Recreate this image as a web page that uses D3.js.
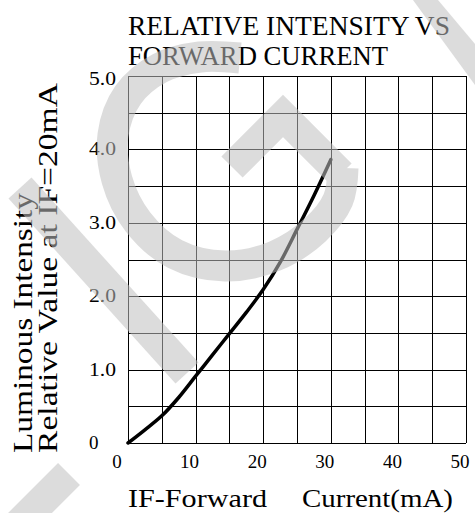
<!DOCTYPE html>
<html>
<head>
<meta charset="utf-8">
<script src="https://cdn.jsdelivr.net/npm/d3@7"></script>
<style>
  body { margin: 0; background: #fff; }
  svg { display: block; }
  text { font-family: "Liberation Serif", "DejaVu Serif", serif; fill: #000; }
</style>
</head>
<body>
<svg width="475" height="513"></svg>
<script>
//Curve: forward current (mA) vs relative intensity
let currents = [0, 2.5, 5, 7.5, 10, 12.5, 15, 17.5, 20, 22.5, 25, 27.5, 30];
let intensities = [0, 0.18, 0.37, 0.62, 0.91, 1.2, 1.49, 1.78, 2.09, 2.46, 2.91, 3.37, 3.86];
//Axis labels and grid steps
let xTicks = [0, 10, 20, 30, 40, 50];
let yTicks = [0, 1, 2, 3, 4, 5];
let yTickLabels = ["0", "1.0", "2.0", "3.0", "4.0", "5.0"];
let xGrid = d3.range(0, 51, 5);
let yGrid = d3.range(0, 5.01, 0.5);
//Texts
let titleLines = ["RELATIVE INTENSITY VS", "FORWARD CURRENT"];
let yTitleLines = ["Luminous Intensity", "Relative Value at IF=20mA"];
let xTitleWords = ["IF-Forward", "Current(mA)"];

let svg = d3.select("svg"),
    margin = {top: 76, right: 9, bottom: 70, left: 128},
    width = +svg.attr("width") - margin.left - margin.right,
    height = +svg.attr("height") - margin.top - margin.bottom;

let x = d3.scaleLinear().domain([0, 50]).range([0, width]),
    y = d3.scaleLinear().domain([0, 5]).range([height, 0]);

let plot = svg.append("g")
    .attr("transform", "translate(" + margin.left + "," + margin.top + ")");

//Grid: vertical lines every 5 mA, horizontal every 0.5
plot.append("g")
    .attr("transform", "translate(0," + height + ")")
    .call(d3.axisBottom(x).tickValues(xGrid).tickSize(height).tickFormat(""))
    .call(g => g.select(".domain").remove())
    .call(g => g.selectAll("line").attr("transform", "translate(0," + (-height) + ")"));

plot.append("g")
    .call(d3.axisLeft(y).tickValues(yGrid).tickSize(-width).tickFormat(""))
    .call(g => g.select(".domain").remove());

plot.selectAll(".tick line")
    .attr("stroke", "#000")
    .attr("stroke-width", 1)
    .attr("shape-rendering", "crispEdges");

//The curve itself
let line = d3.line()
    .x((d, i) => x(currents[i]))
    .y(d => y(d))
    .curve(d3.curveCatmullRom);

plot.append("path")
    .datum(intensities)
    .attr("fill", "none")
    .attr("stroke", "#000")
    .attr("stroke-width", 3.5)
    .attr("stroke-linecap", "round")
    .attr("d", line);

//Tick labels, placed by hand like on the datasheet
plot.selectAll(".xlab")
    .data(xTicks)
  .enter().append("text")
    .attr("class", "xlab")
    .attr("x", d => x(d) - (d == 0 ? 11 : 6))
    .attr("y", height + 25)
    .attr("text-anchor", "middle")
    .style("font-size", "19px")
    .text(d => d);

plot.selectAll(".ylab")
    .data(yTicks)
  .enter().append("text")
    .attr("class", "ylab")
    .attr("x", -39)
    .attr("y", d => y(d) + (d == 5 ? 9 : 6))
    .style("font-size", "19px")
    .attr("textLength", (d, i) => yTickLabels[i].length > 1 ? 27 : null)
    .attr("lengthAdjust", "spacingAndGlyphs")
    .text((d, i) => yTickLabels[i]);

//Title on two lines
svg.selectAll(".title")
    .data(titleLines)
  .enter().append("text")
    .attr("class", "title")
    .attr("x", margin.left)
    .attr("y", (d, i) => 35 + i * 30)
    .style("font-size", "27px")
    .attr("textLength", (d, i) => i == 0 ? 322 : 260)
    .attr("lengthAdjust", "spacingAndGlyphs")
    .text(d => d);

//Axis titles
svg.selectAll(".ytitle")
    .data(yTitleLines)
  .enter().append("text")
    .attr("class", "ytitle")
    .attr("transform", (d, i) => "translate(" + (32 + i * 25) + ",453) rotate(-90)")
    .style("font-size", "28px")
    .attr("textLength", (d, i) => i == 0 ? 260 : 370)
    .attr("lengthAdjust", "spacingAndGlyphs")
    .text(d => d);

svg.selectAll(".xtitle")
    .data(xTitleWords)
  .enter().append("text")
    .attr("class", "xtitle")
    .attr("x", (d, i) => i == 0 ? 128 : 302)
    .attr("y", 507)
    .style("font-size", "26px")
    .attr("textLength", (d, i) => i == 0 ? 139 : 151)
    .attr("lengthAdjust", "spacingAndGlyphs")
    .text(d => d);

//Grey watermark that sits over the scanned sheet (decoration only, page pixels)
let wmArc = [[240,58],[200,57],[160,68],[128,95],[113,135],[117,180],[138,222],[175,254],[225,266],[275,256],[315,230],[338,200],[343,168]];
let wmChevron = [[232,167],[283,116],[341,174]];
let wmBands = [[[20,188],[187,373]], [[69,474],[-30,573]]];
let wmCorner = [[413,0],[438,0],[475,44],[475,85]];

let wm = svg.append("g").attr("opacity", 0.55);
let wmColor = "#c0c0c0";

wm.append("path")
    .attr("d", d3.line().curve(d3.curveCatmullRom)(wmArc))
    .attr("fill", "none")
    .attr("stroke", wmColor)
    .attr("stroke-width", 31);

wm.append("path")
    .attr("d", d3.line()(wmChevron))
    .attr("fill", "none")
    .attr("stroke", wmColor)
    .attr("stroke-width", 30)
    .attr("stroke-linejoin", "miter");

wm.selectAll(".band")
    .data(wmBands)
  .enter().append("path")
    .attr("d", d => d3.line()(d))
    .attr("stroke", wmColor)
    .attr("stroke-width", 31);

wm.append("path")
    .attr("d", d3.line()(wmCorner) + "Z")
    .attr("fill", wmColor);
</script>
</body>
</html>
